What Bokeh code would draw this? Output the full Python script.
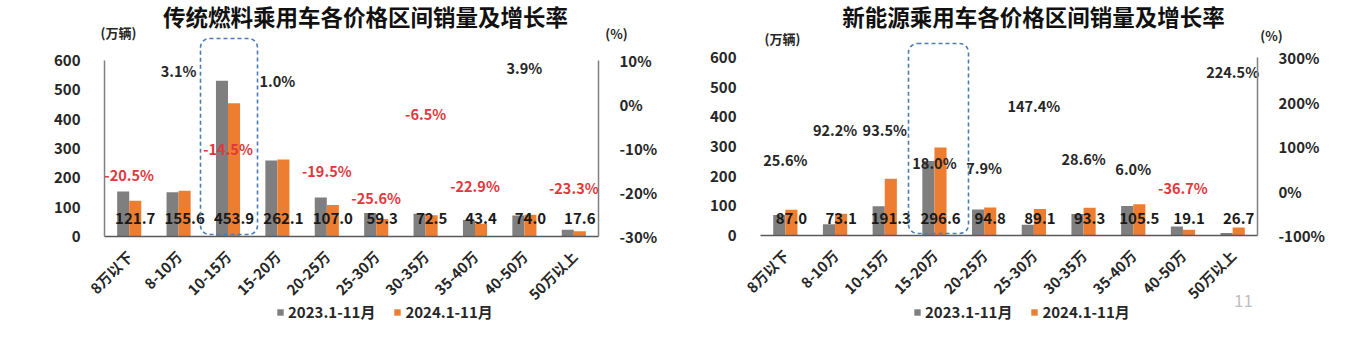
import math
from bokeh.plotting import figure
from bokeh.layouts import row
from bokeh.models import (ColumnDataSource, Range1d, LinearAxis, FixedTicker,
                          PrintfTickFormatter, BoxAnnotation, Label, Legend, LegendItem)
from bokeh.transform import dodge
from bokeh.core.properties import value
from bokeh.embed import file_html
from bokeh.resources import INLINE

# ---- data -------------------------------------------------------------
price_bands = ["8万以下", "8-10万", "10-15万", "15-20万", "20-25万",
               "25-30万", "30-35万", "35-40万", "40-50万", "50万以上"]
series_names = ["2023.1-11月", "2024.1-11月"]

# conventional-fuel passenger cars (10k units) and YoY growth (%)
ice_2023 = [153.1, 150.9, 530.9, 259.5, 132.9, 79.7, 77.5, 56.3, 71.2, 22.9]
ice_2024 = [121.7, 155.6, 453.9, 262.1, 107.0, 59.3, 72.5, 43.4, 74.0, 17.6]
ice_growth = [-20.5, 3.1, -14.5, 1.0, -19.5, -25.6, -6.5, -22.9, 3.9, -23.3]

# new-energy passenger cars (10k units) and YoY growth (%)
nev_2023 = [69.3, 38.0, 98.9, 251.4, 87.9, 36.0, 72.6, 99.5, 30.2, 8.2]
nev_2024 = [87.0, 73.1, 191.3, 296.6, 94.8, 89.1, 93.3, 105.5, 19.1, 26.7]
nev_growth = [25.6, 92.2, 93.5, 18.0, 7.9, 147.4, 28.6, 6.0, -36.7, 224.5]

vol_ticks = [0, 100, 200, 300, 400, 500, 600]
ice_pct_ticks = [-30, -20, -10, 0, 10]
nev_pct_ticks = [-100, 0, 100, 200, 300]

# ---- styling ----------------------------------------------------------
FONT = "Noto Sans CJK SC"
GRAY = "#7f7f7f"
ORANGE = "#ED7D31"
TXT = "#262626"
RED = "#E0383C"
BOX = "#4A7DB4"
W, H = 677, 358


def style_axis(ax, size="15px"):
    ax.major_tick_line_color = None
    ax.minor_tick_line_color = None
    ax.major_label_text_font = FONT
    ax.major_label_text_font_size = size
    ax.major_label_text_font_style = "bold"
    ax.major_label_text_color = TXT


def panel(title, v23, v24, growth, pct_ticks, fl, fr, fb, top600,
          title_cx, unit_xy, pct_xy, box_px, legend_x, val_y, page=None, left_line=True):
    n = len(price_bands)
    cw = (fr - fl) / n                    # px per category slot
    ppu = (fb - top600) / 600.0           # px per volume unit
    pct_lo, pct_hi = pct_ticks[0], pct_ticks[-1]
    ppp = (pct_hi - pct_lo) / (fb - top600)   # percent per px

    def xd(px):
        return (px - fl) / cw

    def yd(py):
        return (fb - py) / ppu

    # the plot frame fills the whole figure; every axis is pinned at a data location
    p = figure(width=W, height=H, title=None, output_backend="svg", toolbar_location=None,
               x_range=Range1d(xd(0), xd(W)), y_range=Range1d(yd(H), yd(0)),
               min_border=0, outline_line_color=None)
    p.grid.visible = False
    p.background_fill_color = "white"
    p.border_fill_color = "white"

    slots = [i + 0.5 for i in range(n)]
    src = ColumnDataSource(dict(
        slot=slots, y23=v23, y24=v24, growth=growth,
        val_txt=[f"{v:.1f}" for v in v24],
        g_txt=[f"{g:.1f}%" for g in growth],
        g_col=[RED if g < 0 else TXT for g in growth],
    ))

    r23 = p.vbar(x=dodge("slot", -0.122), top="y23", bottom=0, width=0.244,
                 source=src, fill_color=GRAY, line_color=None)
    r24 = p.vbar(x=dodge("slot", 0.122), top="y24", bottom=0, width=0.244,
                 source=src, fill_color=ORANGE, line_color=None)

    # 2024 volume labels
    p.text(x=dodge("slot", 0.122), y=val_y, text="val_txt", source=src,
           text_align="center", text_baseline="middle", text_font=value(FONT),
           text_font_size="15px", text_font_style="bold", text_color="#1a1a1a")

    # growth-rate scale and labels
    p.extra_y_ranges = {"pct": Range1d(pct_lo - (H - fb) * ppp, pct_lo + fb * ppp)}
    p.text(x="slot", y="growth", y_range_name="pct", text="g_txt", source=src,
           y_offset=-20, text_align="center", text_baseline="middle", text_font=value(FONT),
           text_font_size="14.5px", text_font_style="bold", text_color="g_col")

    # category axis
    xa = p.xaxis[0]
    xa.fixed_location = 0
    xa.ticker = FixedTicker(ticks=slots)
    xa.major_label_overrides = {s: b for s, b in zip(slots, price_bands)}
    xa.bounds = (0, n)
    xa.major_label_orientation = math.pi / 4
    style_axis(xa, "14.5px")
    xa.major_label_standoff = 11
    xa.axis_line_color = "#595959"
    xa.axis_line_width = 1.5

    # volume axis
    ya = p.yaxis[0]
    ya.fixed_location = 0
    ya.ticker = FixedTicker(ticks=vol_ticks)
    ya.bounds = (0, 600)
    style_axis(ya)
    ya.axis_line_color = "#808080" if left_line else None
    ya.axis_line_width = 1.5
    ya.major_label_standoff = 18

    # growth axis
    ra = LinearAxis(y_range_name="pct", ticker=FixedTicker(ticks=pct_ticks),
                    formatter=PrintfTickFormatter(format="%d%%"), bounds=(pct_lo, pct_hi),
                    fixed_location=n)
    style_axis(ra)
    ra.axis_line_color = "#808080"
    ra.axis_line_width = 1.5
    ra.major_label_standoff = 15
    p.add_layout(ra, "right")

    # highlighted price band
    bx0, bx1, by0, by1 = box_px
    p.add_layout(BoxAnnotation(left=xd(bx0), right=xd(bx1), top=yd(by0), bottom=yd(by1),
                               fill_color=None, fill_alpha=0, line_color=BOX, line_alpha=1,
                               line_width=1.6, line_dash="4 3", border_radius=9))

    # title and unit captions
    p.add_layout(Label(x=xd(title_cx), y=yd(15), text=title, text_align="center",
                       text_baseline="middle", text_font=FONT, text_font_size="22.5px",
                       text_font_style="bold", text_color="#111111"))
    p.add_layout(Label(x=xd(unit_xy[0]), y=yd(unit_xy[1]), text="(万辆)", text_align="center",
                       text_baseline="middle", text_font=FONT, text_font_size="13px",
                       text_font_style="bold", text_color=TXT))
    p.add_layout(Label(x=xd(pct_xy[0]), y=yd(pct_xy[1]), text="(%)", text_align="center",
                       text_baseline="middle", text_font=FONT, text_font_size="13px",
                       text_font_style="bold", text_color=TXT))
    if page is not None:
        p.add_layout(Label(x=xd(page[0]), y=yd(page[1]), text=page[2], text_align="center",
                           text_baseline="middle", text_font=FONT, text_font_size="17px",
                           text_color="#BFBFBF"))

    legend = Legend(items=[LegendItem(label=series_names[0], renderers=[r23]),
                           LegendItem(label=series_names[1], renderers=[r24])],
                    orientation="horizontal", location=(legend_x, H - 322),
                    glyph_width=8, glyph_height=8, label_standoff=4, spacing=18,
                    padding=0, margin=0, border_line_color=None, background_fill_alpha=0,
                    label_text_font=FONT, label_text_font_size="15px",
                    label_text_font_style="bold", label_text_color=TXT, label_height=18)
    p.add_layout(legend, "center")
    return p


left = panel("传统燃料乘用车各价格区间销量及增长率", ice_2023, ice_2024, ice_growth, ice_pct_ticks,
             fl=104, fr=598, fb=236, top600=60, title_cx=365, unit_xy=(118, 32),
             pct_xy=(616, 33), box_px=(200, 257, 38, 234), legend_x=276, val_y=61)

right = panel("新能源乘用车各价格区间销量及增长率", nev_2023, nev_2024, nev_growth, nev_pct_ticks,
              fl=760 - W, fr=1257 - W, fb=235, top600=57, title_cx=1033 - W,
              unit_xy=(782 - W, 38), pct_xy=(1271 - W, 35), box_px=(908 - W, 968 - W, 43, 233),
              legend_x=913 - W, val_y=57, page=(1243 - W, 300, "11"), left_line=False)

layout = row(left, right)
open("out.html", "w").write(file_html(layout, INLINE))
